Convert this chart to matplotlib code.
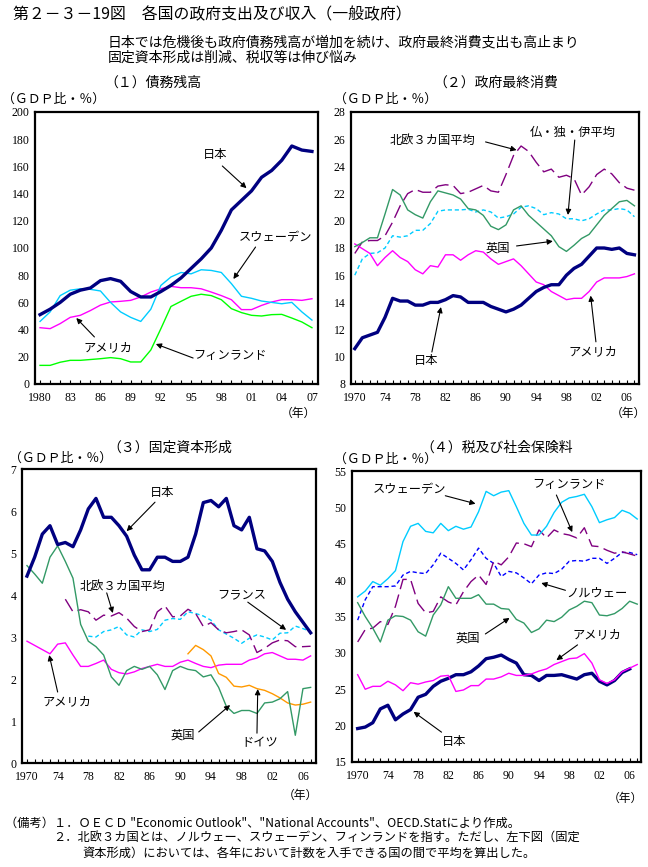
import matplotlib
matplotlib.use('Agg')
import matplotlib.pyplot as plt
from matplotlib.ticker import MultipleLocator

plt.rcParams['font.family'] = ['Noto Sans CJK JP', 'DejaVu Sans']

W, H = 648, 867

# ---- data (GDP ratio, %) ----
debt_years = list(range(1980, 2008))
debt_japan = [51, 55, 60, 66, 69, 70.6, 76, 77.5, 75.5, 68, 64, 64, 68, 72.5, 78, 85,
              92, 100, 113, 128, 135, 142, 152, 157, 164.5, 175, 172, 171]
debt_sweden = [46, 53, 65, 69, 70, 69.6, 68.4, 60, 53, 49, 46, 55, 72.5, 78.7, 82, 81,
               84, 83.5, 82, 73.8, 64.5, 63, 61, 60, 59, 60, 53, 47]
debt_usa = [41.4, 40.7, 44.4, 49, 50.5, 54, 58, 60.3, 60.8, 61.5, 64, 67.6, 70, 71.8,
            70.8, 70.8, 70, 67.6, 65, 62, 54.7, 54.7, 57.8, 60.3, 62, 62, 61.5, 62.7]
debt_finland = [13.7, 13.7, 16, 17.4, 17.4, 18, 18.6, 19.4, 18.6, 16.2, 16.2, 25, 40.7,
                57, 60.8, 64.5, 66, 65, 62, 55.4, 52.5, 50.5, 50, 51, 51.2, 48.5, 45.6, 41.4]

years = list(range(1970, 2008))
cons_japan = [10.6, 11.4, 11.6, 11.8, 12.9, 14.3, 14.1, 14.1, 13.8, 13.8,
              14.0, 14.0, 14.2, 14.5, 14.4, 14.0, 14.0, 14.0, 13.7, 13.5,
              13.3, 13.5, 13.8, 14.3, 14.8, 15.1, 15.3, 15.3, 16.0, 16.5,
              16.8, 17.4, 18.0, 18.0, 17.9, 18.0, 17.6, 17.5]
cons_usa = [18.3, 17.95, 17.6, 16.7, 17.3, 17.8, 17.3, 17.0, 16.4, 16.1,
            16.7, 16.6, 17.5, 17.5, 17.1, 17.5, 17.8, 17.7, 17.2, 16.8,
            17.0, 17.2, 16.7, 16.1, 15.5, 15.3, 14.8, 14.5, 14.2, 14.3,
            14.3, 14.8, 15.5, 15.8, 15.8, 15.8, 15.9, 16.1]
cons_uk = [18.1, 18.4, 18.75, 18.75, 20.5, 22.3, 21.9, 20.8, 20.45, 20.2,
           21.4, 22.2, 22.05, 21.9, 21.6, 20.9, 20.8, 20.4, 19.6, 19.35,
           19.7, 20.8, 21.1, 20.4, 19.9, 19.4, 18.9, 18.1, 17.75, 18.2,
           18.7, 19.0, 19.7, 20.4, 20.9, 21.4, 21.5, 21.1]
cons_nordic = [17.6, 18.45, 18.55, 18.55, 18.9, 19.9, 21.1, 22.0, 22.3, 22.1,
               22.1, 22.55, 22.65, 22.6, 22.0, 22.1, 22.35, 22.6, 22.2, 22.1,
               23.4, 24.8, 25.5, 25.1, 24.3, 23.6, 23.8, 23.2, 23.35, 23.1,
               21.9, 22.5, 23.4, 23.8, 23.45, 22.8, 22.4, 22.25]
cons_fgi = [16.0, 17.2, 17.6, 17.65, 18.0, 18.9, 18.8, 18.9, 19.3, 19.3,
            19.8, 20.7, 20.8, 20.8, 20.8, 20.85, 20.65, 20.8, 20.65, 20.2,
            20.3, 20.5, 21.0, 21.1, 20.9, 20.45, 20.6, 20.5, 20.15, 20.15,
            20.0, 20.15, 20.5, 20.8, 20.8, 20.9, 20.8, 20.3]

inv_japan = [4.45, 4.9, 5.45, 5.65, 5.2, 5.25, 5.15, 5.55, 6.05, 6.3,
             5.85, 5.85, 5.65, 5.4, 4.95, 4.6, 4.6, 4.9, 4.9, 4.8,
             4.8, 4.9, 5.45, 6.2, 6.25, 6.1, 6.3, 5.65, 5.55, 5.85,
             5.1, 5.05, 4.8, 4.3, 3.9, 3.6, 3.35, 3.1]
inv_uk = [4.7, 4.5, 4.28, 4.9, 5.17, 4.8, 4.4, 3.3, 2.9, 2.77,
          2.57, 2.05, 1.85, 2.2, 2.3, 2.23, 2.3, 2.1, 1.75, 2.2,
          2.3, 2.23, 2.2, 2.05, 2.1, 1.8, 1.35, 1.18, 1.25, 1.25,
          1.18, 1.43, 1.45, 1.53, 1.7, 0.66, 1.77, 1.8]
inv_usa = [2.9, 2.8, 2.7, 2.6, 2.83, 2.86, 2.57, 2.3, 2.3, 2.37,
           2.45, 2.23, 2.15, 2.12, 2.17, 2.25, 2.3, 2.35, 2.3, 2.3,
           2.4, 2.45, 2.37, 2.3, 2.27, 2.33, 2.35, 2.35, 2.35, 2.45,
           2.5, 2.6, 2.63, 2.55, 2.47, 2.47, 2.45, 2.55]
inv_nordic_years = list(range(1975, 2008))
inv_nordic = [3.9, 3.6, 3.65, 3.6, 3.4,
              3.52, 3.5, 3.58, 3.45, 3.25, 3.13, 3.17, 3.6, 3.74, 3.48,
              3.5, 3.66, 3.56, 3.25, 3.34, 3.17, 3.1, 3.13, 3.17, 3.05,
              2.63, 2.73, 2.86, 2.93, 2.91, 2.77, 2.77, 2.78]
inv_france_years = list(range(1978, 2008))
inv_france = [3.02, 3.0,
              3.13, 3.17, 3.25, 3.05, 3.0, 3.17, 3.13, 3.18, 3.4, 3.44,
              3.42, 3.6, 3.56, 3.5, 3.4, 3.17, 3.07, 2.97, 2.85, 2.97,
              3.05, 3.0, 2.93, 3.09, 3.1, 3.26, 3.2, 3.13]
inv_germany_years = list(range(1991, 2008))
inv_germany = [2.6, 2.8, 2.7, 2.55, 2.13, 2.04, 1.83, 1.81, 1.85,
               1.77, 1.73, 1.65, 1.55, 1.43, 1.38, 1.4, 1.45]

tax_sweden = [37.7, 38.5, 39.8, 39.3, 40.2, 41.3, 45.3, 47.4, 47.8, 46.7,
              46.5, 47.8, 46.8, 47.4, 47.0, 47.3, 49.4, 52.2, 51.6, 52.1,
              52.3, 50.1, 47.8, 46.2, 46.2, 47.4, 49.3, 50.7, 51.3, 51.5,
              51.8, 50.1, 47.9, 48.3, 48.6, 49.6, 49.2, 48.4]
tax_finland = [31.5, 33.2, 33.4, 34.3, 33.9, 36.4, 40.1, 40.1, 36.8, 35.5,
               35.7, 37.7, 37.0, 36.6, 38.4, 39.8, 40.7, 39.4, 42.6, 42.1,
               43.2, 45.1, 45.0, 44.6, 46.9, 45.8, 46.9, 46.4, 46.2, 45.8,
               47.2, 44.7, 44.6, 44.1, 43.7, 43.9, 43.6, 43.3]
tax_norway = [34.5, 37.3, 39.1, 39.1, 39.1, 39.2, 40.7, 41.2, 41.0, 40.9,
              42.1, 43.7, 43.0, 42.3, 41.4, 42.8, 44.4, 43.0, 42.3, 40.5,
              41.2, 41.0, 40.3, 39.5, 40.7, 41.0, 40.9, 41.5, 42.6, 42.7,
              42.6, 43.0, 43.0, 42.3, 43.0, 43.8, 43.8, 43.5]
tax_uk = [36.9, 35.0, 33.4, 31.5, 34.5, 35.1, 35.0, 34.5, 32.9, 32.3,
          35.2, 36.6, 39.1, 37.5, 37.5, 37.5, 38.0, 36.7, 36.7, 36.1,
          36.0, 34.6, 34.1, 32.8, 33.3, 34.5, 34.3, 34.9, 35.9, 36.4,
          37.1, 36.9, 35.2, 35.1, 35.4, 36.1, 37.1, 36.7]
tax_usa = [27.0, 25.0, 25.4, 25.4, 26.1, 25.6, 24.8, 25.9, 25.7, 26.0,
           26.2, 26.8, 26.9, 24.7, 24.9, 25.5, 25.5, 26.4, 26.4, 26.7,
           27.2, 26.9, 26.9, 27.1, 27.5, 27.8, 28.4, 28.8, 29.2, 29.3,
           29.9, 28.6, 26.3, 25.8, 26.3, 27.4, 27.9, 28.4]
tax_japan_years = list(range(1970, 2007))
tax_japan = [19.6, 19.8, 20.4, 22.3, 22.8, 20.8, 21.6, 22.2, 23.9, 24.3,
             25.4, 26.1, 26.5, 27.0, 27.0, 27.4, 28.2, 29.2, 29.4, 29.7,
             29.1, 28.6, 27.0, 26.9, 26.2, 26.9, 26.9, 27.0, 26.7, 26.4,
             27.0, 27.2, 26.1, 25.6, 26.2, 27.3, 27.8]

debt_ticks = [1980, 1983, 1986, 1989, 1992, 1995, 1998, 2001, 2004, 2007]
debt_ticklabels = ['1980', '83', '86', '89', '92', '95', '98', '01', '04', '07']
long_ticks = [1970, 1974, 1978, 1982, 1986, 1990, 1994, 1998, 2002, 2006]
long_ticklabels = ['1970', '74', '78', '82', '86', '90', '94', '98', '02', '06']

NAVY = '#000080'
SKY = '#00CCFF'
MAGENTA = '#FF00FF'
LIME = '#00FF00'
SEA = '#339966'
PURPLE = '#800080'
BLUE = '#0000FF'
ORANGE = '#FF9900'
LONG_DASH = (0, (10, 4))
SHORT_DASH = (0, (3, 2))

TICK_FONT = dict(family='Liberation Serif', size=8.5)
LABEL_SIZE = 8.8


def px_axes(x0, y0, x1, y1):
    return fig.add_axes([x0 / W, 1 - y1 / H, (x1 - x0) / W, (y1 - y0) / H])


def ftext(x, y, s, size=9.5, ha='left'):
    fig.text(x / W, 1 - y / H, s, fontsize=size, ha=ha, va='center')


def setup(ax, xlim, ylim, ystep, ticks, labels):
    ax.set_xlim(*xlim)
    ax.set_ylim(*ylim)
    ax.yaxis.set_major_locator(MultipleLocator(ystep))
    ax.set_xticks(ticks)
    ax.set_xticklabels(labels)
    ax.xaxis.set_minor_locator(MultipleLocator(1))
    ax.tick_params(which='both', direction='in', length=3, width=0.8, pad=6)
    ax.tick_params(axis='y', length=0, pad=4)
    ax.tick_params(which='minor', length=3)
    for lab in ax.get_xticklabels() + ax.get_yticklabels():
        lab.set_fontfamily(TICK_FONT['family'])
        lab.set_fontsize(TICK_FONT['size'])
    for sp in ax.spines.values():
        sp.set_linewidth(1.6)


def label(ax, text, pos, tail, head):
    ax.text(pos[0], pos[1], text, fontsize=LABEL_SIZE, ha='center', va='center')
    ax.annotate('', xy=head, xytext=tail,
                arrowprops=dict(arrowstyle='-|>', color='black', lw=0.8,
                                mutation_scale=8, shrinkA=0, shrinkB=0))


fig = plt.figure(figsize=(W / 100, H / 100), dpi=100)

# header
ftext(13, 15, '第２－３－19図　各国の政府支出及び収入（一般政府）', size=11.4)
ftext(108, 42, '日本では危機後も政府債務残高が増加を続け、政府最終消費支出も高止まり', size=10)
ftext(108, 58, '固定資本形成は削減、税収等は伸び悩み', size=10)

# (1) debt
ax1 = px_axes(35, 112, 318, 384)
ax1.plot(debt_years, debt_finland, color=LIME, lw=1.0)
ax1.plot(debt_years, debt_usa, color=MAGENTA, lw=1.0)
ax1.plot(debt_years, debt_sweden, color=SKY, lw=1.0)
ax1.plot(debt_years, debt_japan, color=NAVY, lw=2.4)
setup(ax1, (1979.5, 2007.6), (0, 200), 20, debt_ticks, debt_ticklabels)
label(ax1, '日本', (1997.4, 168.4), (1998.1, 160.3), (2000.5, 144))
label(ax1, 'スウェーデン', (2003.4, 107.4), (2001.4, 100.7), (1999.2, 77.2))
label(ax1, 'アメリカ', (1986.75, 26.5), (1985.4, 34.6), (1983.6, 48.5))
label(ax1, 'フィンランド', (1998.9, 21.3), (1995.2, 19.1), (1991.5, 29.4))
ftext(153, 83, '（１）債務残高', size=10, ha='center')
ftext(2, 99, '（ＧＤＰ比・％）', size=9.3)
ftext(298, 413, '（年）', size=8.5, ha='center')

# (2) final consumption
ax2 = px_axes(351, 112, 639, 384)
ax2.plot(years, cons_fgi, color=SKY, lw=1.0, ls=SHORT_DASH)
ax2.plot(years, cons_nordic, color=PURPLE, lw=1.0, ls=LONG_DASH)
ax2.plot(years, cons_usa, color=MAGENTA, lw=1.0)
ax2.plot(years, cons_uk, color=SEA, lw=1.0)
ax2.plot(years, cons_japan, color=NAVY, lw=2.4)
setup(ax2, (1969.5, 2007.6), (8, 28), 2, long_ticks, long_ticklabels)
label(ax2, '北欧３カ国平均', (1980.3, 25.94), (1987.3, 25.8), (1991.4, 25.2))
label(ax2, '仏・独・伊平均', (1998.85, 26.5), (1999.1, 25.94), (1998.2, 20.43))
label(ax2, '英国', (1988.9, 18.0), (1991.4, 18.15), (1996.2, 18.5))
label(ax2, '日本', (1979.5, 9.76), (1980.2, 10.35), (1981.4, 13.66))
label(ax2, 'アメリカ', (2001.5, 10.35), (2001.9, 11.1), (2001.2, 14.5))
ftext(496, 83, '（２）政府最終消費', size=10, ha='center')
ftext(334, 99, '（ＧＤＰ比・％）', size=9.3)
ftext(628, 413, '（年）', size=8.5, ha='center')

# (3) fixed capital formation
ax3 = px_axes(22, 469, 316, 763)
ax3.plot(inv_france_years, inv_france, color=SKY, lw=1.0, ls=SHORT_DASH)
ax3.plot(inv_nordic_years, inv_nordic, color=PURPLE, lw=1.0, ls=LONG_DASH)
ax3.plot(years, inv_usa, color=MAGENTA, lw=1.0)
ax3.plot(inv_germany_years, inv_germany, color=ORANGE, lw=1.0)
ax3.plot(years, inv_uk, color=SEA, lw=1.0)
ax3.plot(years, inv_japan, color=NAVY, lw=2.4)
setup(ax3, (1969.35, 2007.7), (0, 7), 1, long_ticks, long_ticklabels)
label(ax3, '日本', (1987.6, 6.43), (1986.7, 6.21), (1983.0, 5.52))
label(ax3, '北欧３カ国平均', (1982.5, 4.21), (1980.4, 4.05), (1981.2, 3.57))
label(ax3, 'フランス', (1998.0, 4.0), (1998.8, 3.83), (2003.8, 3.17))
label(ax3, 'アメリカ', (1975.2, 1.45), (1974.0, 1.69), (1972.9, 2.57))
label(ax3, '英国', (1990.3, 0.67), (1992.4, 0.74), (1996.5, 1.38))
label(ax3, 'ドイツ', (2000.4, 0.48), (2000.0, 0.71), (2000.1, 1.76))
ftext(170, 448, '（３）固定資本形成', size=10, ha='center')
ftext(9, 458, '（ＧＤＰ比・％）', size=9.3)
ftext(300, 795, '（年）', size=8.5, ha='center')

# (4) taxes and social security contributions
ax4 = px_axes(352, 471, 641, 762)
ax4.plot(years, tax_norway, color=BLUE, lw=1.0, ls=SHORT_DASH)
ax4.plot(years, tax_finland, color=PURPLE, lw=1.0, ls=LONG_DASH)
ax4.plot(years, tax_sweden, color=SKY, lw=1.0)
ax4.plot(years, tax_uk, color=SEA, lw=1.0)
ax4.plot(tax_japan_years, tax_japan, color=NAVY, lw=2.4)
ax4.plot(years, tax_usa, color=MAGENTA, lw=1.0)
setup(ax4, (1969.25, 2007.5), (15, 55), 5, long_ticks, long_ticklabels)
label(ax4, 'スウェーデン', (1976.9, 52.4), (1981.6, 51.6), (1985.6, 50.5))
label(ax4, 'フィンランド', (1998.0, 53.1), (1996.3, 51.7), (1998.4, 46.6))
label(ax4, 'ノルウェー', (2001.6, 38.2), (1997.5, 38.6), (1994.3, 39.6))
label(ax4, '英国', (1984.6, 32.0), (1986.9, 32.6), (1990.1, 34.8))
label(ax4, 'アメリカ', (2001.7, 32.5), (1999.1, 31.1), (1996.3, 29.0))
label(ax4, '日本', (1982.8, 17.75), (1981.1, 19.1), (1977.4, 21.9))
ftext(497, 448, '（４）税及び社会保険料', size=10, ha='center')
ftext(334, 459, '（ＧＤＰ比・％）', size=9.3)
ftext(625, 798, '（年）', size=8.5, ha='center')

# notes
ftext(5, 823, '（備考）１．ＯＥＣＤ "Economic Outlook"、"National Accounts"、OECD.Statにより作成。', size=8.8)
ftext(53, 838, '２．北欧３カ国とは、ノルウェー、スウェーデン、フィンランドを指す。ただし、左下図（固定', size=8.8)
ftext(82, 853, '資本形成）においては、各年において計数を入手できる国の間で平均を算出した。', size=8.8)

fig.savefig('out.png', dpi=100)
